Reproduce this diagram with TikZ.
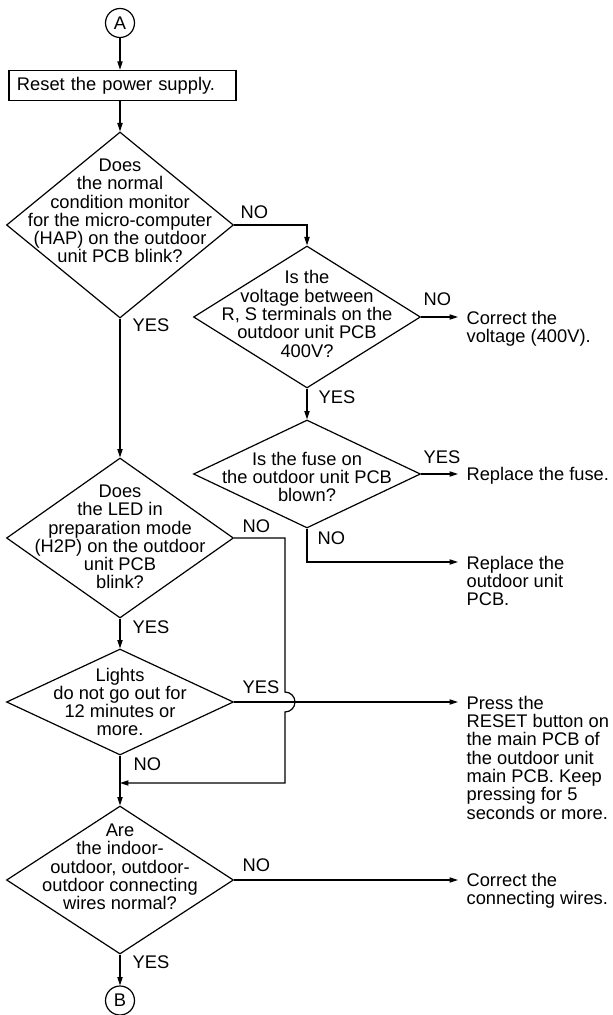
\documentclass[tikz,border=0pt]{standalone}
\usepackage{fontspec}
\setmainfont{Liberation Sans}
\usetikzlibrary{shapes.geometric,arrows.meta,calc}

\begin{document}
\begin{tikzpicture}[x=0.5pt,y=-0.5pt,
  font=\fontsize{9.15}{9.15}\selectfont,
  line width=0.6pt,
  conn/.style={circle,draw,inner sep=0,minimum size=#1},
  dia/.style={diamond,draw,inner sep=0,minimum width=113.5pt},
  qtext/.style={align=center,inner sep=0},
  act/.style={align=left,anchor=north west,inner xsep=4pt,inner ysep=0},
  lbl/.style={anchor=west,inner sep=0},
  arr/.style={-{Triangle[length=4.2pt,width=2.6pt]}}
]
  \useasboundingbox (0,0) rectangle (613,1015);
  \node[conn=14.5pt] (A) at (120,23) {A};
  \node[draw,minimum width=113.5pt,minimum height=14.5pt,text width=105.5pt,inner xsep=4pt,align=left] (reset) at (122.5,85.5) {Reset the power supply.};
  \node[dia,minimum height=93pt] (d1) at (120,225) {};
  \node[qtext] (d1t) at (120,211) {Does\\the normal\\condition monitor\\for the micro-computer\\(HAP) on the outdoor\\unit PCB blink?};
  \node[dia,minimum height=71pt] (d2) at (307,317) {};
  \node[qtext] (d2t) at (307,314) {Is the\\voltage between\\R, S terminals on the\\outdoor unit PCB\\400V?};
  \node[dia,minimum height=54pt] (d3) at (307,474) {};
  \node[qtext] (d3t) at (307,477) {Is the fuse on\\the outdoor unit PCB\\blown?};
  \node[dia,minimum height=80pt] (d4) at (120,538) {};
  \node[qtext] (d4t) at (120,537) {Does\\the LED in\\preparation mode\\(H2P) on the outdoor\\unit PCB\\blink?};
  \node[dia,minimum height=53pt] (d5) at (120,702) {};
  \node[qtext] (d5t) at (120,702) {Lights\\do not go out for\\12 minutes or\\more.};
  \node[dia,minimum height=74pt] (d6) at (120,880) {};
  \node[qtext] (d6t) at (120,867) {Are\\the indoor-\\outdoor, outdoor-\\outdoor connecting\\wires normal?};
  \node[conn=14.5pt] (B) at (120,1000.5) {B};
  \node[act] (volt) at (458,310.5) {Correct the\\voltage (400V).};
  \node[act] (fuse) at (458,466.5) {Replace the fuse.};
  \node[act] (pcb) at (458,555.5) {Replace the\\outdoor unit\\PCB.};
  \node[act] (press) at (458,695.5) {Press the\\RESET button on\\the main PCB of\\the outdoor unit\\main PCB. Keep\\pressing for 5\\seconds or more.};
  \node[act] (wires) at (458,872.5) {Correct the\\connecting wires.};
  \node[lbl] (yes1) at (132,325) {YES};
  \node[lbl] (no1) at (240,212) {NO};
  \node[lbl] (no2) at (423,299) {NO};
  \node[lbl] (yes2) at (318,397) {YES};
  \node[lbl] (yes3) at (423,457) {YES};
  \node[lbl] (no3) at (317,538) {NO};
  \node[lbl] (no4) at (242,526) {NO};
  \node[lbl] (yes4) at (132,627) {YES};
  \node[lbl] (yes5) at (242,687) {YES};
  \node[lbl] (no5) at (133,764) {NO};
  \node[lbl] (no6) at (242,865) {NO};
  \node[lbl] (yes6) at (132,962) {YES};
  \coordinate (hop) at (285,702);
  \coordinate (back) at (285,783);
  \draw[arr] (A) -- (A |- reset.north);
  \draw[arr] (d1.north |- reset.south) -- (d1.north);
  \draw[arr] (d1.south) -- (d4.north);
  \draw[arr] (d1.east) -| (d2.north);
  \draw[arr] (d2.east) -- (d2.east -| volt.west);
  \draw[arr] (d2.south) -- (d3.north);
  \draw[arr] (d3.east) -- (d3.east -| fuse.west);
  \draw[arr] (d3.south) |- ([yshift=-3.25pt]pcb.north west);
  \draw[arr] (d4.south) -- (d5.north);
  \draw[arr] (d4.east) -| ([yshift=5pt]hop) arc[start angle=90,end angle=-90,radius=5pt] -- (back) -- (back -| d5.south);
  \draw[arr] (d5.east) -- (d5.east -| press.west);
  \draw[arr] (d5.south) -- (d6.north);
  \draw[arr] (d6.east) -- (d6.east -| wires.west);
  \draw[arr] (d6.south) -- (B.north);
\end{tikzpicture}
\end{document}
